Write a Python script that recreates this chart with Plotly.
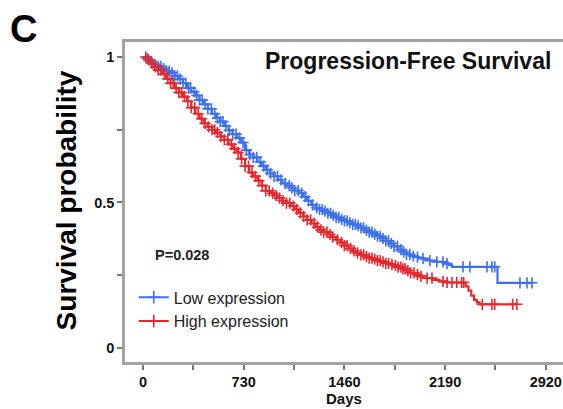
import numpy as np
import plotly.graph_objects as go

# ---- data ----
low_t = [0, 25, 50, 80, 110, 140, 170, 200, 230, 260,
         290, 320, 350, 380, 410, 440, 470, 500, 530, 560,
         590, 620, 650, 680, 710, 740, 770, 800, 830, 860,
         890, 920, 950, 980, 1010, 1040, 1070, 1100, 1130, 1160,
         1190, 1220, 1250, 1280, 1310, 1340, 1370, 1400, 1430, 1460,
         1490, 1520, 1550, 1580, 1610, 1640, 1670, 1700, 1730, 1760,
         1790, 1820, 1850, 1880, 1910, 1940, 1970, 2000, 2040, 2080,
         2130, 2180, 2220, 2240, 2570]
low_s = [1.0, 0.995, 0.985, 0.975, 0.968, 0.960, 0.952, 0.946, 0.935, 0.924,
         0.910, 0.893, 0.880, 0.868, 0.852, 0.838, 0.822, 0.805, 0.790, 0.778,
         0.763, 0.748, 0.735, 0.722, 0.706, 0.680, 0.665, 0.655, 0.640, 0.625,
         0.612, 0.600, 0.590, 0.578, 0.566, 0.558, 0.550, 0.541, 0.532, 0.520,
         0.506, 0.492, 0.482, 0.476, 0.470, 0.463, 0.456, 0.449, 0.442, 0.437,
         0.431, 0.425, 0.420, 0.413, 0.405, 0.398, 0.391, 0.384, 0.377, 0.368,
         0.359, 0.349, 0.338, 0.330, 0.322, 0.316, 0.312, 0.308, 0.304, 0.300,
         0.296, 0.290, 0.285, 0.279, 0.224]
low_end = 2820
low_censor = [30, 60, 85, 110, 130, 150, 170, 190, 210, 230, 250, 270, 290,
              310, 330, 345, 370, 390, 410, 430, 450, 470, 495, 520, 540, 560,
              580, 600, 625, 650, 675, 700, 725, 750, 775, 800, 825, 850, 875,
              900, 925, 950, 975, 1000, 1030, 1060, 1080, 1100, 1125, 1150, 1175,
              1200, 1230, 1260, 1280, 1300, 1320, 1340, 1360, 1380, 1400, 1420,
              1440, 1460, 1480, 1500, 1520, 1540, 1560, 1580, 1600, 1620, 1640,
              1660, 1680, 1700, 1720, 1740, 1760, 1780, 1800, 1820, 1845, 1870,
              1890, 1910, 1935, 1960, 1990, 2030, 2080, 2130, 2175, 2204, 2320,
              2370, 2494, 2530, 2550, 2733, 2784, 2820]

high_t = [0, 25, 50, 80, 110, 140, 170, 200, 230, 260,
          290, 320, 350, 380, 410, 440, 470, 500, 530, 560,
          590, 620, 650, 680, 710, 740, 770, 800, 830, 860,
          890, 920, 950, 980, 1010, 1040, 1070, 1100, 1130, 1160,
          1190, 1220, 1250, 1280, 1310, 1340, 1370, 1400, 1430, 1460,
          1490, 1520, 1550, 1580, 1610, 1640, 1670, 1700, 1730, 1760,
          1790, 1820, 1850, 1880, 1910, 1940, 1970, 2000, 2050, 2100,
          2150, 2200, 2340, 2360, 2380, 2400, 2420, 2440]
high_s = [1.0, 0.990, 0.978, 0.966, 0.955, 0.942, 0.925, 0.910, 0.893, 0.878,
          0.864, 0.848, 0.826, 0.805, 0.788, 0.772, 0.760, 0.750, 0.740, 0.727,
          0.715, 0.700, 0.685, 0.672, 0.650, 0.625, 0.603, 0.590, 0.575, 0.558,
          0.540, 0.532, 0.524, 0.515, 0.506, 0.498, 0.488, 0.476, 0.464, 0.452,
          0.440, 0.428, 0.416, 0.406, 0.398, 0.390, 0.381, 0.372, 0.362, 0.352,
          0.342, 0.334, 0.327, 0.320, 0.314, 0.309, 0.305, 0.300, 0.296, 0.291,
          0.287, 0.283, 0.278, 0.272, 0.266, 0.258, 0.252, 0.246, 0.240, 0.234,
          0.229, 0.225, 0.212, 0.197, 0.180, 0.165, 0.157, 0.150]
high_end = 2711
high_censor = [20, 40, 65, 90, 110, 130, 155, 180, 200, 220, 240, 260, 280,
               300, 325, 350, 375, 400, 425, 450, 475, 500, 520, 540, 565, 590,
               615, 640, 665, 690, 715, 740, 765, 790, 815, 840, 865, 890, 915,
               940, 965, 990, 1015, 1040, 1065, 1090, 1115, 1140, 1165, 1190,
               1215, 1240, 1265, 1290, 1310, 1334, 1356, 1377, 1410, 1440, 1460,
               1480, 1505, 1530, 1555, 1580, 1600, 1620, 1640, 1660, 1680, 1700,
               1720, 1740, 1760, 1780, 1805, 1830, 1850, 1870, 1885, 1900, 1920,
               1940, 1965, 1990, 2015, 2060, 2095, 2175, 2205, 2240, 2275, 2310,
               2325, 2460, 2530, 2550, 2680, 2711]

x_ticks = [0, 730, 1460, 2190, 2920]
y_ticks = [0, 0.5, 1]
y_tick_text = ["0", "0.5", "1"]

BLUE = "#3D6FF2"
RED = "#E6282E"
AXIS = "#A3A3A3"


def step_value(t, s, q):
    t = np.asarray(t)
    s = np.asarray(s)
    idx = np.searchsorted(t, np.asarray(q), side="right") - 1
    return s[idx]


fig = go.Figure()

for name, t, s, end, cens, col in [
    ("Low expression", low_t, low_s, low_end, low_censor, BLUE),
    ("High expression", high_t, high_s, high_end, high_censor, RED),
]:
    xs = list(t) + [end]
    ys = list(s) + [s[-1]]
    fig.add_trace(go.Scatter(x=xs, y=ys, mode="lines", line=dict(color=col, width=2.2, shape="hv"),
                             showlegend=False, hoverinfo="skip"))
    fig.add_trace(go.Scatter(x=cens, y=step_value(t, s, cens), mode="markers",
                             marker=dict(symbol="cross-thin", size=8, line=dict(color=col, width=1.6)),
                             showlegend=False, hoverinfo="skip"))

# legend-only entries
for name, col in [("Low expression", BLUE), ("High expression", RED)]:
    fig.add_trace(go.Scatter(x=[None], y=[None], mode="lines+markers", name=name,
                             line=dict(color=col, width=2),
                             marker=dict(symbol="cross-thin", size=9, line=dict(color=col, width=1.6))))

FONT = "Liberation Sans, Arial, sans-serif"

fig.update_layout(
    width=563, height=409,
    margin=dict(l=125, r=0, t=42, b=47),
    paper_bgcolor="white", plot_bgcolor="white",
    font=dict(family=FONT, color="#111111"),
    xaxis=dict(range=[-130.5, 3045], tickmode="array", tickvals=x_ticks,
               ticktext=[str(v) for v in x_ticks],
               showline=True, linecolor=AXIS, linewidth=2.5, mirror=True,
               ticks="outside", ticklen=5, tickwidth=1.5, tickcolor="#777777",
               minor=dict(tickmode="linear", tick0=0, dtick=365, ticks="outside",
                          ticklen=5, tickwidth=1.5, tickcolor="#777777"),
               showgrid=False, zeroline=False,
               tickfont=dict(size=14.5, weight="bold", color="#111111")),
    yaxis=dict(range=[-0.0483, 1.0517], tickmode="array", tickvals=y_ticks,
               ticktext=y_tick_text,
               showline=True, linecolor=AXIS, linewidth=2.5,
               ticks="outside", ticklen=5, tickwidth=1.5, tickcolor="#777777",
               minor=dict(tickmode="linear", tick0=0, dtick=0.25, ticks="outside",
                          ticklen=5, tickwidth=1.5, tickcolor="#777777"),
               showgrid=False, zeroline=False,
               tickfont=dict(size=14.5, weight="bold", color="#111111")),
    legend=dict(x=0.02, xanchor="left", y=0.255, yanchor="top",
                font=dict(size=16, color="#222222"), bgcolor="rgba(0,0,0,0)",
                itemwidth=30, tracegroupgap=0),
    annotations=[
        dict(text="C", xref="paper", yref="paper", x=-0.2306, y=1.0406,
             xanchor="center", yanchor="middle", showarrow=False,
             font=dict(size=38, weight="bold", color="#000000")),
        dict(text="Progression-Free Survival", xref="paper", yref="paper", x=0.977, y=0.941,
             xanchor="right", yanchor="middle", showarrow=False,
             font=dict(size=23, weight="bold", color="#111111")),
        dict(text="P=0.028", xref="paper", yref="paper", x=0.064, y=0.334,
             xanchor="left", yanchor="middle", showarrow=False,
             font=dict(size=14.5, weight="bold", color="#222222")),
        dict(text="Survival probability", xref="paper", yref="paper", x=-0.1347, y=0.505,
             xanchor="center", yanchor="middle", textangle=-90, showarrow=False,
             font=dict(size=28, weight="bold", color="#000000")),
        dict(text="Days", xref="paper", yref="paper", x=0.5, y=-0.1125,
             xanchor="center", yanchor="middle", showarrow=False,
             font=dict(size=15, weight="bold", color="#111111")),
    ],
)

fig.write_html("out.html")
